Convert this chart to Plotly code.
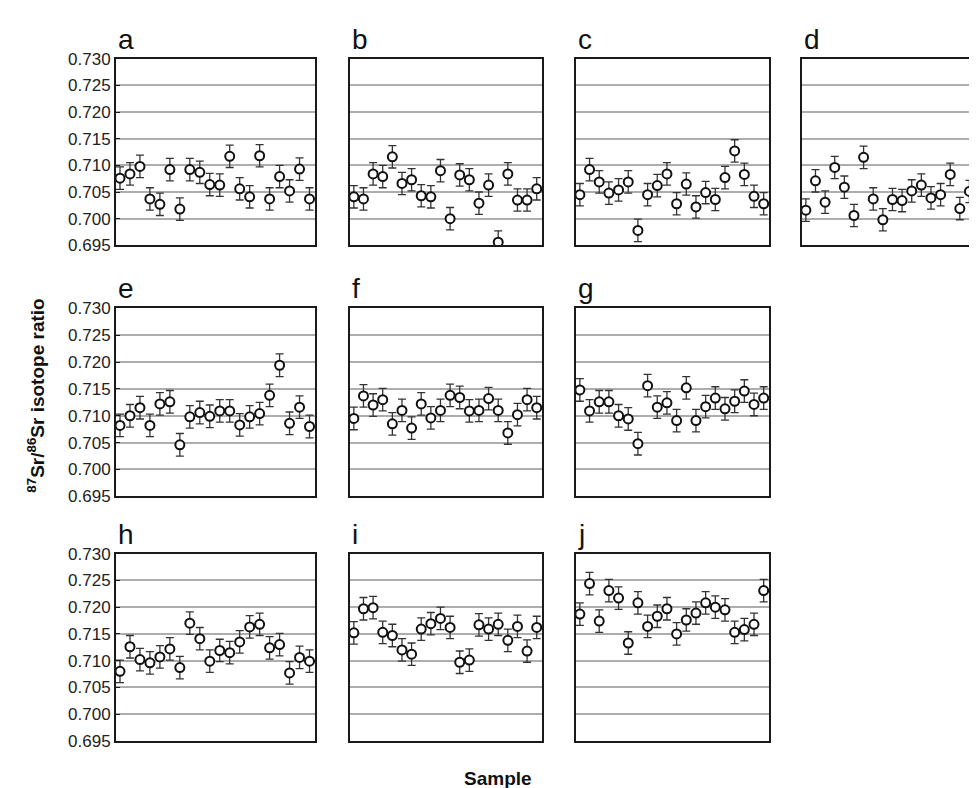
import plotly.graph_objects as go

# ---------------- data ----------------
panel_labels = ["a", "b", "c", "d", "e", "f", "g", "h", "i", "j"]
samples = list(range(1, 21))
sr_error = 0.0021  # approximate 2SE shown by the error bars

a_vals = [0.7076, 0.7084, 0.7098, 0.7037, 0.7027, 0.7092, 0.7018, 0.7092, 0.7087, 0.7064,
          0.7063, 0.7117, 0.7056, 0.7041, 0.7118, 0.7037, 0.7079, 0.7052, 0.7093, 0.7037]
b_vals = [0.7041, 0.7037, 0.7084, 0.7079, 0.7116, 0.7066, 0.7073, 0.7043, 0.7041, 0.7090,
          0.7000, 0.7082, 0.7073, 0.7029, 0.7063, 0.6956, 0.7084, 0.7035, 0.7035, 0.7056]
c_vals = [0.7045, 0.7092, 0.7069, 0.7048, 0.7054, 0.7069, 0.6978, 0.7045, 0.7062, 0.7084,
          0.7028, 0.7065, 0.7022, 0.7049, 0.7036, 0.7077, 0.7127, 0.7083, 0.7042, 0.7028]
d_vals = [0.7016, 0.7071, 0.7031, 0.7096, 0.7059, 0.7006, 0.7115, 0.7037, 0.6998, 0.7036,
          0.7034, 0.7052, 0.7063, 0.7039, 0.7045, 0.7083, 0.7019, 0.7051, 0.7008, 0.7059]
e_vals = [0.7082, 0.7100, 0.7115, 0.7082, 0.7122, 0.7126, 0.7046, 0.7098, 0.7106, 0.7099,
          0.7109, 0.7109, 0.7083, 0.7098, 0.7104, 0.7138, 0.7194, 0.7086, 0.7116, 0.7080]
f_vals = [0.7095, 0.7137, 0.7120, 0.7130, 0.7085, 0.7110, 0.7077, 0.7122, 0.7096, 0.7110,
          0.7138, 0.7134, 0.7109, 0.7110, 0.7132, 0.7110, 0.7068, 0.7102, 0.7130, 0.7115]
g_vals = [0.7148, 0.7109, 0.7126, 0.7126, 0.7100, 0.7094, 0.7048, 0.7156, 0.7116, 0.7124,
          0.7091, 0.7152, 0.7091, 0.7117, 0.7133, 0.7113, 0.7127, 0.7146, 0.7121, 0.7133]
h_vals = [0.7080, 0.7126, 0.7102, 0.7096, 0.7107, 0.7122, 0.7087, 0.7170, 0.7141, 0.7099,
          0.7119, 0.7115, 0.7135, 0.7163, 0.7168, 0.7124, 0.7130, 0.7077, 0.7106, 0.7099]
i_vals = [0.7152, 0.7197, 0.7199, 0.7153, 0.7147, 0.7120, 0.7112, 0.7159, 0.7169, 0.7179,
          0.7162, 0.7097, 0.7101, 0.7167, 0.7159, 0.7168, 0.7138, 0.7164, 0.7118, 0.7162]
j_vals = [0.7187, 0.7244, 0.7174, 0.7231, 0.7217, 0.7133, 0.7208, 0.7164, 0.7183, 0.7197,
          0.7150, 0.7176, 0.7189, 0.7208, 0.7200, 0.7195, 0.7153, 0.7158, 0.7168, 0.7231]

panel_values = [a_vals, b_vals, c_vals, d_vals, e_vals, f_vals, g_vals, h_vals, i_vals, j_vals]

y_ticks = [0.695, 0.700, 0.705, 0.710, 0.715, 0.720, 0.725, 0.730]
y_tick_text = ["0.695", "0.700", "0.705", "0.710", "0.715", "0.720", "0.725", "0.730"]

# ---------------- layout geometry (pixels) ----------------
W, H = 977, 788
col_px = [(108, 307), (342, 534), (568, 761), (794, 977)]
row_px = [(42.7, 234.0), (298.5, 491.2), (549.9, 741.8)]
panel_pos = [(0, 0), (0, 1), (0, 2), (0, 3),
             (1, 0), (1, 1), (1, 2),
             (2, 0), (2, 1), (2, 2)]

FONT = "Liberation Sans, Arial, Helvetica, sans-serif"
fig = go.Figure()
annotations = []

for k, (lab, vals, (r, c)) in enumerate(zip(panel_labels, panel_values, panel_pos)):
    idx = "" if k == 0 else str(k + 1)
    x0, x1 = col_px[c]
    top, bot = row_px[r]
    xr = [0.6, 20.55]
    if c == 3:  # panel d is cut by the picture edge
        xr = [0.6, 0.6 + 19.95 * (977 - 794) / 192.0]
    fig.add_trace(go.Scatter(
        x=samples, y=vals, mode="markers",
        xaxis="x" + idx, yaxis="y" + idx,
        cliponaxis=(c != 3),
        marker=dict(symbol="circle", size=9, color="white",
                    line=dict(color="#111111", width=2)),
        error_y=dict(type="constant", value=sr_error, color="#333333",
                     thickness=1.3, width=4),
        showlegend=False, hoverinfo="x+y"))
    fig.layout["xaxis" + idx] = dict(
        domain=[x0 / W, x1 / W], range=xr, anchor="y" + idx,
        showline=True, mirror=True, linecolor="#1a1a1a", linewidth=2,
        showgrid=False, zeroline=False, showticklabels=False, ticks="")
    fig.layout["yaxis" + idx] = dict(
        domain=[1 - bot / H, 1 - top / H], range=[0.695, 0.730], anchor="x" + idx,
        tickvals=y_ticks, ticktext=y_tick_text,
        showticklabels=(c == 0),
        ticks="inside" if c == 0 else "", ticklen=4, tickcolor="#1a1a1a",
        showgrid=True, gridcolor="#adadad", gridwidth=1.5,
        showline=True, mirror=(c != 3), linecolor="#1a1a1a", linewidth=2,
        zeroline=False,
        tickfont=dict(family=FONT, size=17, color="#222222"))
    annotations.append(dict(
        text=lab, x=x0 / W, y=1 - (top - 2) / H, xref="paper", yref="paper",
        xanchor="left", yanchor="bottom", showarrow=False,
        font=dict(family=FONT, size=28, color="#111111")))

annotations.append(dict(
    text="<b><sup>87</sup>Sr/<sup>86</sup>Sr isotope ratio</b>",
    x=28 / W, y=1 - 388 / H, xref="paper", yref="paper",
    xanchor="center", yanchor="middle", textangle=-90, showarrow=False,
    font=dict(family=FONT, size=19, color="#111111")))
annotations.append(dict(
    text="<b>Sample</b>", x=490 / W, y=1 - 780 / H, xref="paper", yref="paper",
    xanchor="center", yanchor="middle", showarrow=False,
    font=dict(family=FONT, size=19, color="#111111")))

fig.update_layout(
    width=W, height=H, margin=dict(l=0, r=0, t=0, b=0),
    paper_bgcolor="white", plot_bgcolor="white",
    annotations=annotations, showlegend=False)

fig.write_html("out.html")
